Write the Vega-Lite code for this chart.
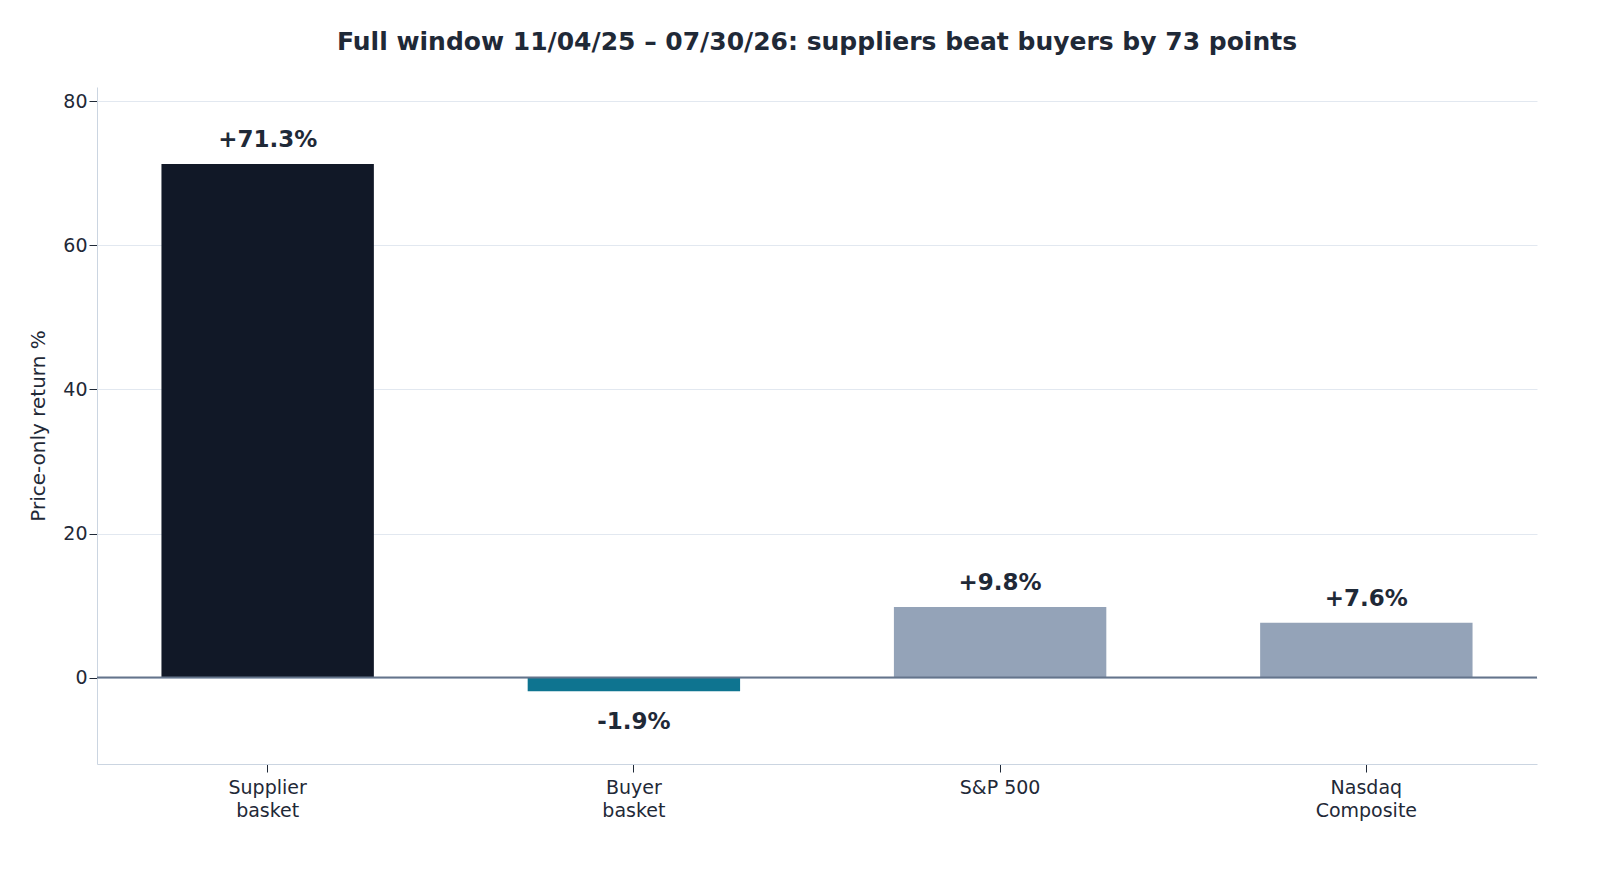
{
  "$schema": "https://vega.github.io/schema/vega-lite/v6.json",
  "width": 1600,
  "height": 880,
  "autosize": {"type": "fit", "contains": "padding"},
  "padding": {"left": 28, "top": 30, "right": 62, "bottom": 60},
  "background": "white",
  "title": {
    "text": "Full window 11/04/25 – 07/30/26: suppliers beat buyers by 73 points",
    "font": "DejaVu Sans", "fontSize": 25, "fontWeight": "bold", "color": "#1f2937",
    "anchor": "middle", "offset": 32
  },
  "data": {"values": [
    {"name": "Supplier|basket", "ret": 71.3, "label": "+71.3%", "grp": "s"},
    {"name": "Buyer|basket", "ret": -1.9, "label": "-1.9%", "grp": "b"},
    {"name": "S&P 500", "ret": 9.8, "label": "+9.8%", "grp": "i"},
    {"name": "Nasdaq|Composite", "ret": 7.6, "label": "+7.6%", "grp": "i2"}
  ]},
  "encoding": {
    "x": {"field": "name", "type": "nominal", "sort": null, "title": null,
      "scale": {"paddingInner": 0.42, "paddingOuter": 0.176},
      "axis": {"labelAngle": 0, "labelExpr": "split(datum.value, '|')", "labelFontSize": 19, "labelFont": "DejaVu Sans", "labelColor": "#1f2937", "labelPadding": 6, "tickSize": 8, "tickColor": "#1f2937", "domainColor": "#cbd5e1", "grid": false, "labelLineHeight": 23}},
    "y": {"field": "ret", "type": "quantitative", "title": "Price-only return %",
      "scale": {"domain": [-12, 82], "nice": false, "zero": false},
      "axis": {"values": [0, 20, 40, 60, 80], "labelFontSize": 19, "labelFont": "DejaVu Sans", "labelColor": "#1f2937", "titleFont": "DejaVu Sans", "titleFontSize": 20, "titleFontWeight": "normal", "titleColor": "#1f2937", "titlePadding": 14, "gridColor": "#e2e8f0", "domainColor": "#cbd5e1", "tickColor": "#1f2937", "tickSize": 8}}
  },
  "layer": [
    {"mark": {"type": "bar"},
      "encoding": {"color": {"field": "grp", "type": "nominal", "legend": null,
        "scale": {"domain": ["s", "b", "i", "i2"], "range": ["#111827", "#0e7490", "#94a3b8", "#94a3b8"]}}}},
    {"mark": {"type": "rule", "color": "#64748b", "strokeWidth": 2}, "data": {"values": [{"z": 0}]},
      "encoding": {"y": {"field": "z", "type": "quantitative"}, "x": null}},
    {"transform": [{"filter": "datum.ret >= 0"}],
      "mark": {"type": "text", "baseline": "bottom", "dy": -12, "font": "DejaVu Sans", "fontSize": 23, "fontWeight": "bold", "color": "#1f2937"},
      "encoding": {"text": {"field": "label"}}},
    {"transform": [{"filter": "datum.ret < 0"}],
      "mark": {"type": "text", "baseline": "top", "dy": 20, "font": "DejaVu Sans", "fontSize": 23, "fontWeight": "bold", "color": "#1f2937"},
      "encoding": {"text": {"field": "label"}}}
  ],
  "config": {"view": {"stroke": null}}
}
